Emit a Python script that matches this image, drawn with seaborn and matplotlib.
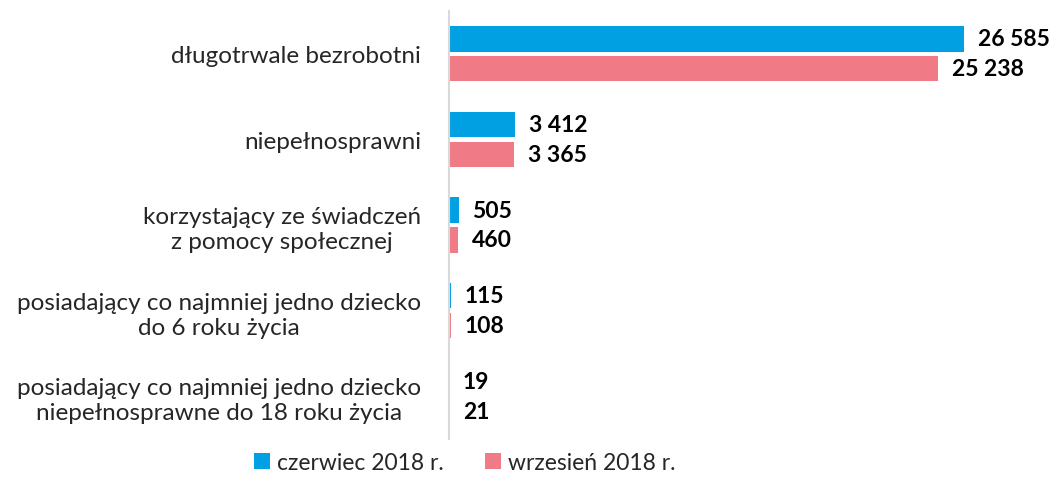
import matplotlib
matplotlib.use("Agg")
import matplotlib.pyplot as plt
import pandas as pd
import seaborn as sns

categories = [
    "długotrwale bezrobotni",
    "niepełnosprawni",
    "korzystający ze świadczeń\nz pomocy społecznej",
    "posiadający co najmniej jedno dziecko\ndo 6 roku życia",
    "posiadający co najmniej jedno dziecko\nniepełnosprawne do 18 roku życia",
]
series = ["czerwiec 2018 r.", "wrzesień 2018 r."]
czerwiec = [26585, 3412, 505, 115, 19]
wrzesien = [25238, 3365, 460, 108, 21]
colors = ["#00A0E3", "#F07B87"]

df = pd.DataFrame({
    "kategoria": categories * 2,
    "okres": [series[0]] * len(categories) + [series[1]] * len(categories),
    "liczba": czerwiec + wrzesien,
})

sns.set_style("white")
plt.rcParams["font.family"] = ["Lato", "DejaVu Sans"]

fig = plt.figure(figsize=(10.56, 4.85), dpi=100)
ax = fig.add_axes([0.425, 0.093, 0.551, 0.882])

sns.barplot(data=df, y="kategoria", x="liczba", hue="okres", orient="h",
            palette=colors, saturation=1, width=0.70, gap=0.16, linewidth=0,
            ax=ax, legend=True)

# etykiety wartości z odstępem tysięcy
for cont in ax.containers:
    ax.bar_label(cont, labels=[f"{int(v):,}".replace(",", " ") for v in cont.datavalues],
                 padding=10, fontsize=16.5, fontweight="bold", color="black")

ax.set_xlim(0, 30000)
ax.set_xticks([])
ax.set_xlabel("")
ax.set_ylabel("")
ax.tick_params(axis="y", length=0, pad=20, labelsize=17.5)
for lbl in ax.get_yticklabels():
    lbl.set_multialignment("center")
    lbl.set_linespacing(1.25)
for side in ["top", "right", "bottom"]:
    ax.spines[side].set_visible(False)
ax.spines["left"].set_color("#D9D9D9")
ax.spines["left"].set_linewidth(1.5)

handles, labels = ax.get_legend_handles_labels()
ax.get_legend().remove()
fig.legend(handles, labels, loc="lower center", bbox_to_anchor=(0.44, -0.02), ncol=2,
           frameon=False, fontsize=16.5, handlelength=0.7, handleheight=0.7,
           handletextpad=0.3, columnspacing=1.8)

fig.savefig("out.png", dpi=100)
